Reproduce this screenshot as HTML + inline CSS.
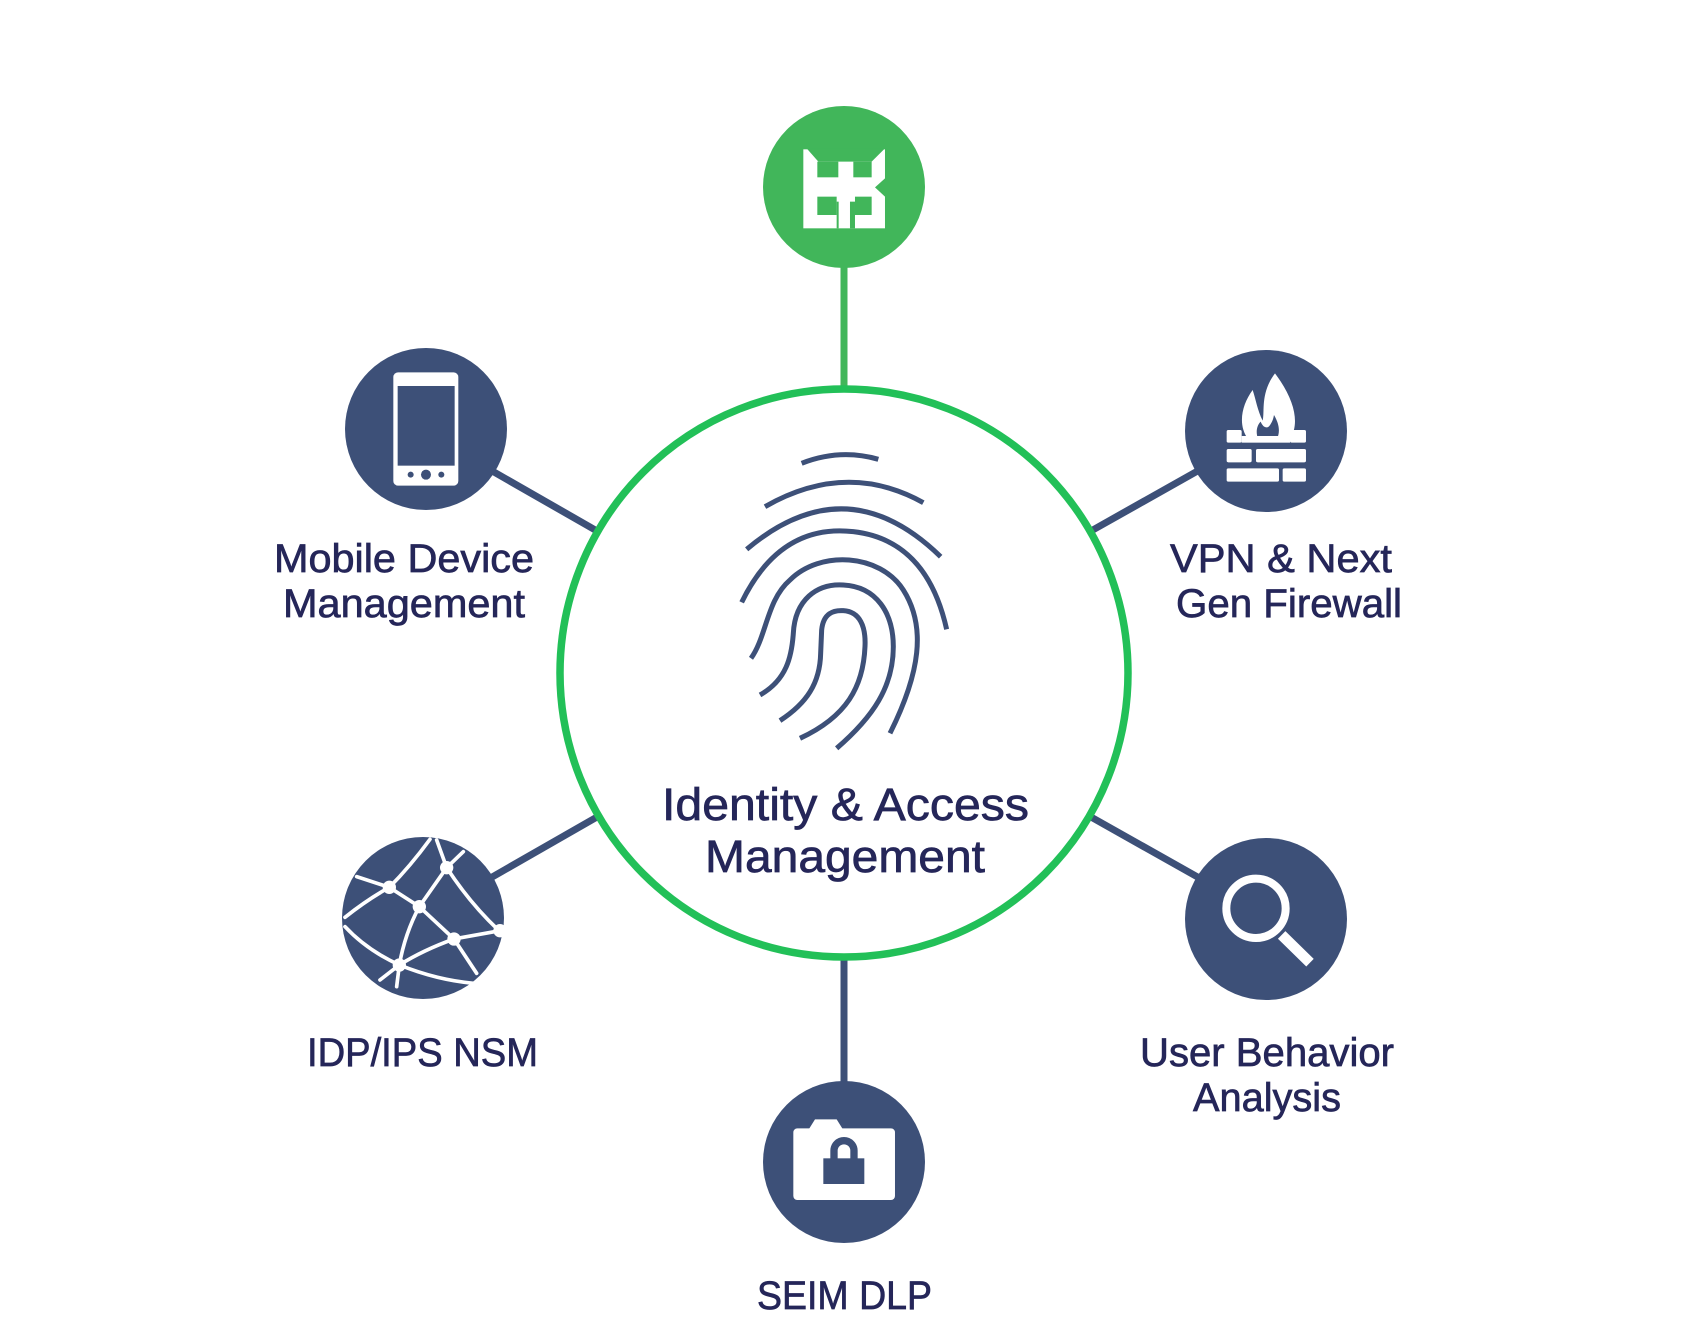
<!DOCTYPE html>
<html><head><meta charset="utf-8"><style>html,body{margin:0;padding:0;background:#fff}svg{display:block}</style></head>
<body>
<svg width="1681" height="1322" viewBox="0 0 1681 1322" xmlns="http://www.w3.org/2000/svg">
<g stroke-width="7">
<line x1="844" y1="260" x2="844" y2="392" stroke="#41b65a"/>
<line x1="480" y1="464" x2="597" y2="531" stroke="#3d5078"/>
<line x1="1210" y1="464" x2="1091" y2="531" stroke="#3d5078"/>
<line x1="480" y1="884" x2="597" y2="817" stroke="#3d5078"/>
<line x1="1210" y1="884" x2="1091" y2="817" stroke="#3d5078"/>
<line x1="844" y1="955" x2="844" y2="1090" stroke="#3d5078"/>
</g>
<circle cx="844" cy="673" r="284" fill="#fff" stroke="#22c058" stroke-width="7.5"/>
<circle cx="844" cy="187" r="81" fill="#41b65a"/>
<circle cx="426" cy="429" r="81" fill="#3d5078"/>
<circle cx="1266" cy="431" r="81" fill="#3d5078"/>
<circle cx="423" cy="918" r="81" fill="#3d5078"/>
<circle cx="1266" cy="919" r="81" fill="#3d5078"/>
<circle cx="844" cy="1162" r="81" fill="#3d5078"/>
<g transform="translate(740,90) scale(0.3333)">
<rect x="190" y="178" width="245" height="237" fill="#fff"/>
<polygon points="200,175 435,175 395,215 235,215" fill="#41b65a"/>
<rect x="232" y="215" width="63" height="47" fill="#41b65a"/>
<rect x="340" y="215" width="55" height="47" fill="#41b65a"/>
<rect x="232" y="320" width="58" height="55" fill="#41b65a"/>
<rect x="345" y="320" width="50" height="55" fill="#41b65a"/>
<rect x="290" y="335" width="6" height="80" fill="#41b65a"/>
<rect x="330" y="335" width="15" height="80" fill="#41b65a"/>
<polygon points="435,265 405,292 435,320" fill="#41b65a"/>
</g>
<g transform="translate(340,340) scale(0.3333)">
<rect x="160" y="97" width="195" height="340" rx="14" fill="#fff"/>
<rect x="173" y="138" width="171" height="239" fill="#3d5078"/>
<circle cx="212" cy="404" r="9" fill="#3d5078"/><circle cx="258" cy="404" r="15" fill="#3d5078"/><circle cx="304" cy="404" r="9" fill="#3d5078"/>
</g>
<g transform="translate(1180,350) scale(0.3333)" fill="#fff">
<path d="M285,70 C240,130 255,185 248,212 C232,180 228,150 218,120 C185,165 172,225 205,268 L330,268 C360,220 345,150 285,70 Z"/>
<path d="M235,268 C225,245 232,225 242,215 C250,235 262,235 268,228 C278,215 280,205 282,195 C300,225 300,250 290,268 Z" fill="#3d5078"/>
<rect x="140" y="240" width="45" height="38" rx="5"/><rect x="330" y="240" width="48" height="38" rx="5"/>
<rect x="185" y="258" width="145" height="20"/>
<rect x="140" y="297" width="75" height="40" rx="5"/><rect x="228" y="297" width="150" height="40" rx="5"/>
<rect x="140" y="355" width="157" height="40" rx="5"/><rect x="308" y="355" width="70" height="40" rx="5"/>
</g>
<g transform="translate(330,830) scale(0.3333)" stroke="#fff" stroke-width="11" fill="none" stroke-linecap="round">
<path d="M80,140 L178,172"/><path d="M178,172 Q240,110 300,28"/><path d="M178,172 Q110,210 45,262"/>
<path d="M178,172 L268,230 L350,113"/><path d="M350,113 L320,30"/><path d="M350,113 L400,65"/>
<path d="M350,113 Q420,220 505,300"/><path d="M268,230 L372,327"/><path d="M268,230 Q225,310 208,405"/>
<path d="M372,327 Q280,360 208,405"/><path d="M372,327 L510,302"/><path d="M372,327 L440,430"/>
<path d="M208,405 Q110,360 45,290"/><path d="M208,405 Q320,450 430,460"/><path d="M208,405 L200,470"/><path d="M208,405 L150,450"/>
<g fill="#fff" stroke="none"><circle cx="178" cy="172" r="20"/><circle cx="268" cy="230" r="20"/><circle cx="350" cy="113" r="20"/><circle cx="372" cy="327" r="20"/><circle cx="208" cy="405" r="20"/><circle cx="510" cy="302" r="20"/></g>
</g>
<g transform="translate(1170,830) scale(0.3333)">
<circle cx="258" cy="235" r="89" fill="none" stroke="#fff" stroke-width="24"/>
<line x1="335" y1="315" x2="420" y2="398" stroke="#fff" stroke-width="32"/>
</g>
<g transform="translate(760,1080) scale(0.3333)">
<rect x="100" y="145" width="305" height="215" rx="12" fill="#fff"/>
<polygon points="145,150 165,118 230,118 250,150" fill="#fff"/>
<rect x="190" y="235" width="123" height="77" fill="#3d5078"/>
<path d="M222,240 L222,212 A30,30 0 0 1 282,212 L282,240" fill="none" stroke="#3d5078" stroke-width="22"/>
</g>
<g transform="translate(720,440) scale(0.3333)" fill="none" stroke="#3d5078" stroke-width="15">
<path d="M245,70 Q360,25 475,58"/>
<path d="M135,200 Q380,60 610,188"/>
<path d="M80,328 Q380,75 662,350"/>
<path d="M65,487 Q180,250 400,275 Q620,300 680,568"/>
<path d="M93,655 C140,590 140,480 210,420 C300,330 480,340 550,450 C620,560 600,700 510,880"/>
<path d="M120,765 C200,720 215,650 220,580 C225,480 290,430 370,435 C470,440 520,520 520,620 C520,740 460,830 350,925"/>
<path d="M180,842 C260,790 300,730 302,640 L305,570 C310,520 340,510 370,512 C420,515 438,560 435,620 C430,740 380,830 240,895"/>
</g>
<g font-family="'Liberation Sans', sans-serif" fill="#252659" stroke="#252659" stroke-width="0.7">
<text x="662" y="820" font-size="45" textLength="367" lengthAdjust="spacingAndGlyphs">Identity &amp; Access</text>
<text x="705" y="872" font-size="45" textLength="280" lengthAdjust="spacingAndGlyphs">Management</text>
<text x="274" y="572" font-size="40" textLength="260" lengthAdjust="spacingAndGlyphs">Mobile Device</text>
<text x="283" y="617" font-size="40" textLength="242" lengthAdjust="spacingAndGlyphs">Management</text>
<text x="1170" y="572" font-size="40" textLength="222" lengthAdjust="spacingAndGlyphs">VPN &amp; Next</text>
<text x="1176" y="617" font-size="40" textLength="226" lengthAdjust="spacingAndGlyphs">Gen Firewall</text>
<text x="307" y="1066" font-size="40" textLength="231" lengthAdjust="spacingAndGlyphs">IDP/IPS NSM</text>
<text x="1140" y="1066" font-size="40" textLength="254" lengthAdjust="spacingAndGlyphs">User Behavior</text>
<text x="1193" y="1111" font-size="40" textLength="148" lengthAdjust="spacingAndGlyphs">Analysis</text>
<text x="757" y="1309" font-size="40" textLength="175" lengthAdjust="spacingAndGlyphs">SEIM DLP</text>
</g>
</svg>
</body></html>
